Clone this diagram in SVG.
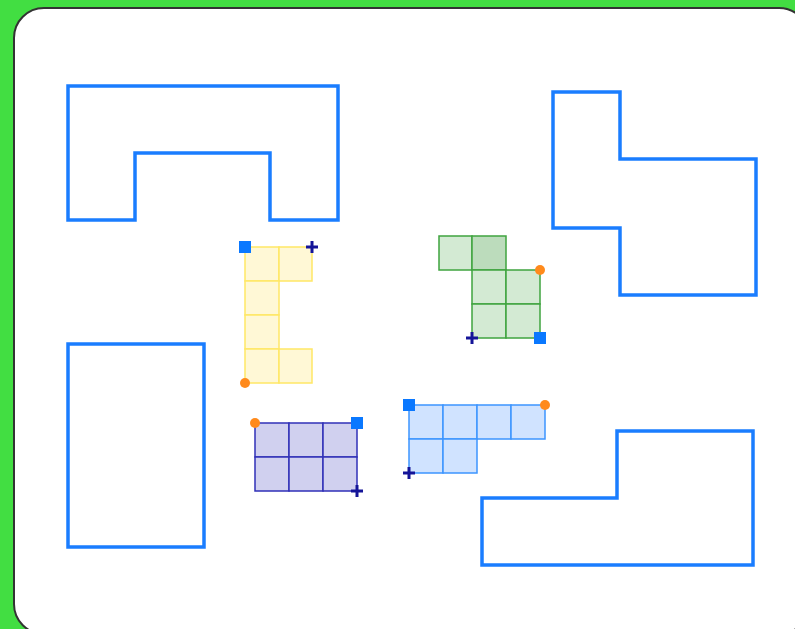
<svg xmlns="http://www.w3.org/2000/svg" width="795" height="629" viewBox="0 0 795 629">
<defs>
<style>
.outline{fill:none;stroke:#1a7dff;stroke-width:3.5;stroke-linejoin:miter}
.y{fill:#fff8d6;stroke:#ffe766;stroke-width:1.5}
.g{fill:#d3ead3;stroke:#3fa43f;stroke-width:1.5}
.gd{fill:#bcdcbc;stroke:#3fa43f;stroke-width:1.5}
.p{fill:#d0d0ef;stroke:#3030b8;stroke-width:1.5}
.b{fill:#d0e3ff;stroke:#3d95ff;stroke-width:1.5}
.sq{fill:#0a78ff}
.dot{fill:#ff8a1c}
.plus{stroke:#141498;stroke-width:3;fill:none}
</style>
<symbol id="plus" overflow="visible"><path class="plus" d="M-6 0H6M0 -6V6"/></symbol>
</defs>
<rect width="795" height="629" fill="#42de42"/>
<rect x="14" y="8" width="795" height="626" rx="30" fill="#fff" stroke="#333" stroke-width="2"/>
<g id="outline-u"><path class="outline" d="M68 86H338V220H270V153H135V220H68Z"/></g>
<g id="outline-tr"><path class="outline" d="M553 92H620V159H756V295H620V228H553Z"/></g>
<g id="outline-rect"><path class="outline" d="M68 344H204V547H68Z"/></g>
<g id="outline-br"><path class="outline" d="M617 431H753V565H482V498H617Z"/></g>
<g id="piece-yellow">
<rect class="y" x="245" y="247" width="34" height="34"/>
<rect class="y" x="279" y="247" width="33" height="34"/>
<rect class="y" x="245" y="281" width="34" height="34"/>
<rect class="y" x="245" y="315" width="34" height="34"/>
<rect class="y" x="245" y="349" width="34" height="34"/>
<rect class="y" x="279" y="349" width="33" height="34"/>
<rect class="sq" x="239" y="241" width="12" height="12"/>
<use href="#plus" x="312" y="247"/>
<circle class="dot" cx="245" cy="383" r="5"/>
</g>
<g id="piece-green">
<rect class="g" x="439" y="236" width="33" height="34"/>
<rect class="gd" x="472" y="236" width="34" height="34"/>
<rect class="g" x="472" y="270" width="34" height="34"/>
<rect class="g" x="506" y="270" width="34" height="34"/>
<rect class="g" x="472" y="304" width="34" height="34"/>
<rect class="g" x="506" y="304" width="34" height="34"/>
<circle class="dot" cx="540" cy="270" r="5"/>
<rect class="sq" x="534" y="332" width="12" height="12"/>
<use href="#plus" x="472" y="338"/>
</g>
<g id="piece-purple">
<rect class="p" x="255" y="423" width="34" height="34"/>
<rect class="p" x="289" y="423" width="34" height="34"/>
<rect class="p" x="323" y="423" width="34" height="34"/>
<rect class="p" x="255" y="457" width="34" height="34"/>
<rect class="p" x="289" y="457" width="34" height="34"/>
<rect class="p" x="323" y="457" width="34" height="34"/>
<circle class="dot" cx="255" cy="423" r="5"/>
<rect class="sq" x="351" y="417" width="12" height="12"/>
<use href="#plus" x="357" y="491"/>
</g>
<g id="piece-blue">
<rect class="b" x="409" y="405" width="34" height="34"/>
<rect class="b" x="443" y="405" width="34" height="34"/>
<rect class="b" x="477" y="405" width="34" height="34"/>
<rect class="b" x="511" y="405" width="34" height="34"/>
<rect class="b" x="409" y="439" width="34" height="34"/>
<rect class="b" x="443" y="439" width="34" height="34"/>
<rect class="sq" x="403" y="399" width="12" height="12"/>
<circle class="dot" cx="545" cy="405" r="5"/>
<use href="#plus" x="409" y="473"/>
</g>
<g id="connectors"/>
</svg>
